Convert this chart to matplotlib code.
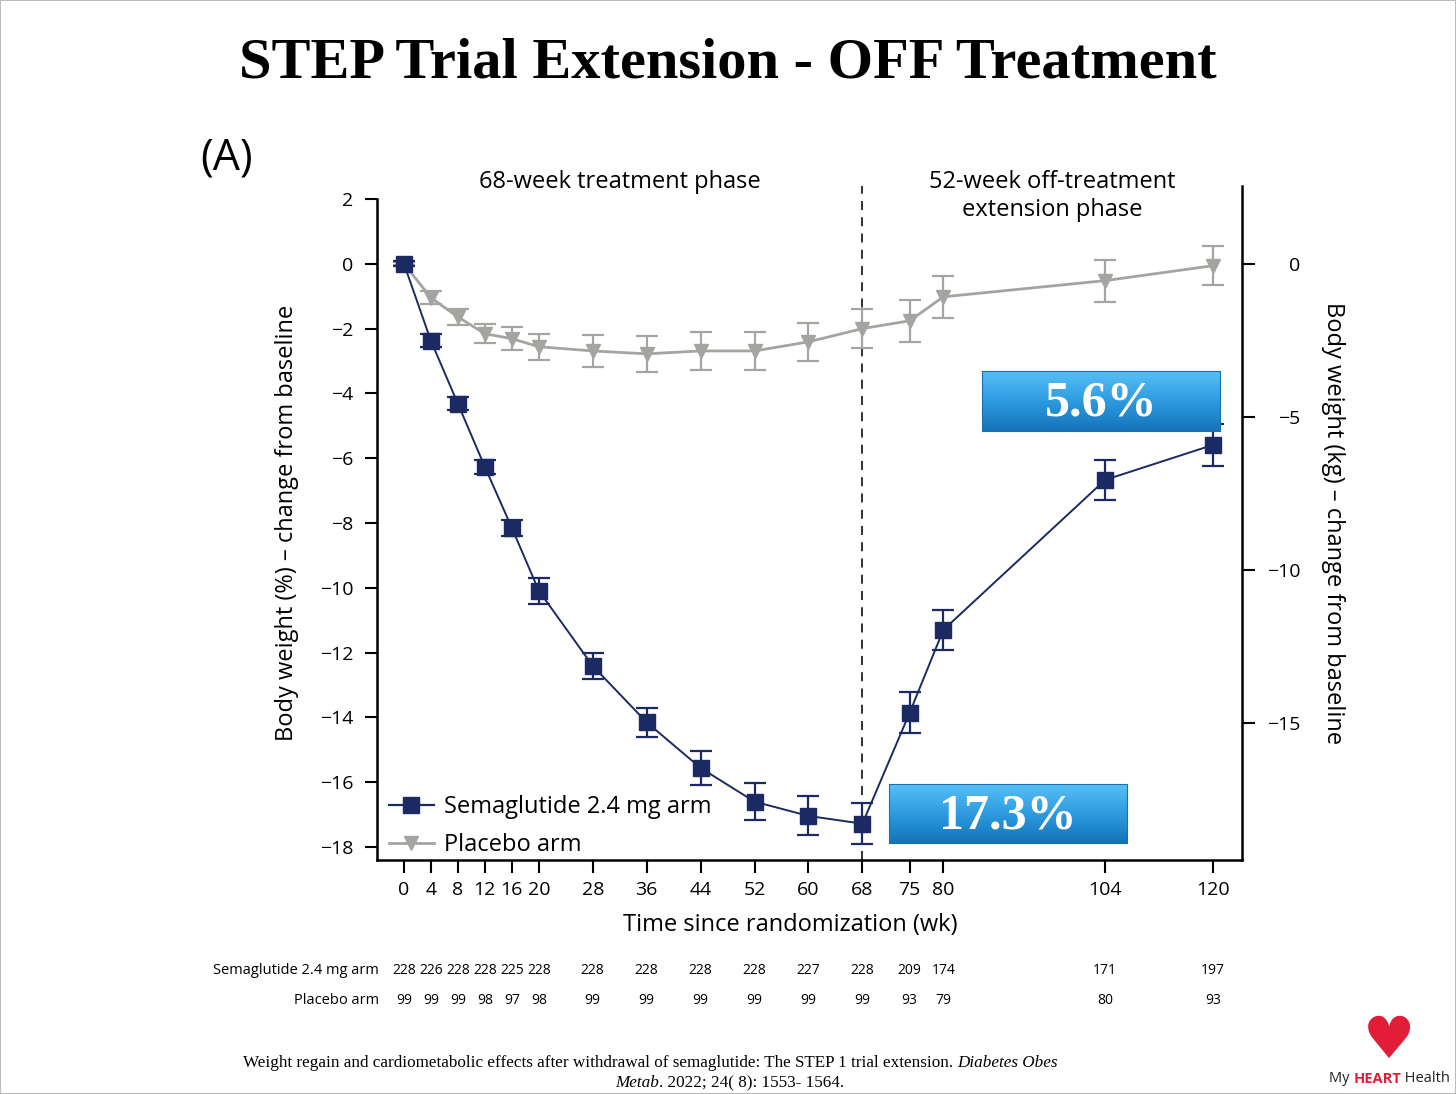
import matplotlib
matplotlib.use("Agg")
import matplotlib.pyplot as plt
import numpy as np
from matplotlib.lines import Line2D
import matplotlib.transforms as mtransforms
from matplotlib.colors import LinearSegmentedColormap

# ---------------- data ----------------
weeks = [0, 4, 8, 12, 16, 20, 28, 36, 44, 52, 60, 68, 75, 80, 104, 120]
sema_mean = [0, -2.38, -4.32, -6.27, -8.15, -10.09, -12.41, -14.15, -15.56, -16.6, -17.04, -17.28, -13.86, -11.3, -6.67, -5.59]
sema_err = [0.08, 0.2, 0.2, 0.22, 0.25, 0.4, 0.4, 0.45, 0.52, 0.58, 0.6, 0.63, 0.63, 0.63, 0.62, 0.65]
plac_mean = [0, -1.05, -1.64, -2.16, -2.31, -2.56, -2.69, -2.78, -2.69, -2.69, -2.41, -2.0, -1.76, -1.02, -0.52, -0.06]
plac_err = [0.05, 0.2, 0.25, 0.3, 0.35, 0.4, 0.5, 0.55, 0.58, 0.58, 0.58, 0.6, 0.65, 0.65, 0.65, 0.6]
sema_n = [228, 226, 228, 228, 225, 228, 228, 228, 228, 228, 227, 228, 209, 174, 171, 197]
plac_n = [99, 99, 99, 98, 97, 98, 99, 99, 99, 99, 99, 99, 93, 79, 80, 93]
left_ticks = [2, 0, -2, -4, -6, -8, -10, -12, -14, -16, -18]
right_ticks = [0, -5, -10, -15]
callouts = ["5.6%", "17.3%"]

NAVY = "#1c2a63"
GREY = "#a4a4a0"
FONT = "Open Sans"

plt.rcParams["font.family"] = [FONT, "DejaVu Sans"]

fig = plt.figure(figsize=(14.56, 10.94), dpi=100)

# title
fig.text(0.5, 1 - 63 / 1094, "STEP Trial Extension - OFF Treatment", ha="center", va="center",
         fontsize=42, fontweight="bold", family=["Liberation Serif", "DejaVu Serif"])
fig.text(200 / 1456, 1 - 158 / 1094, "(A)", ha="left", va="center", fontsize=31)

# main axes
ax = fig.add_axes([377 / 1456, 1 - 860 / 1094, (1242 - 377) / 1456, (860 - 186) / 1094])
ylo, yhi = -18.4, 2.4
ax.set_ylim(ylo, yhi)
ax.set_xlim(-4.0, 124.3)

ax.errorbar(weeks, plac_mean, yerr=plac_err, color=GREY, marker="v", markersize=10,
            lw=2.0, elinewidth=1.6, capsize=8, capthick=1.6, zorder=3, label="Placebo arm")
ax.errorbar(weeks, sema_mean, yerr=sema_err, color=NAVY, marker="s", markersize=11,
            lw=1.4, elinewidth=1.6, capsize=8, capthick=1.6, zorder=4, label="Semaglutide 2.4 mg arm")

ax.axvline(68, color="#222222", lw=1.3, ls=(0, (5, 4)), zorder=1)

ax.spines["top"].set_visible(False)
ax.spines["right"].set_visible(False)
ax.spines["left"].set_bounds(-18.4, 2)
for s in ("left", "bottom"):
    ax.spines[s].set_linewidth(1.8)
ax.set_yticks(left_ticks)
ax.set_yticklabels([("\u2212" + str(-t)) if t < 0 else str(t) for t in left_ticks])
ax.set_xticks(weeks)
ax.set_xticklabels([str(w) for w in weeks])
ax.tick_params(axis="both", direction="out", length=9, width=1.5, labelsize=14, pad=6)
ax.tick_params(axis="y", pad=8)

ax.set_ylabel("Body weight (%) \u2013 change from baseline", fontsize=17)
ax.yaxis.set_label_coords((299 - 377) / 865, 0.5)
ax.set_xlabel("Time since randomization (wk)", fontsize=17)
ax.xaxis.set_label_coords((790 - 377) / 865, -(913 - 860) / 674)

# right axis (kg)
ax2 = ax.twinx()
kfac = 1.059
ax2.set_ylim(ylo * kfac, yhi * kfac)
ax2.set_yticks(right_ticks)
ax2.set_yticklabels([("\u2212" + str(-t)) if t < 0 else str(t) for t in right_ticks])
for s in ("top", "left", "bottom"):
    ax2.spines[s].set_visible(False)
ax2.spines["right"].set_linewidth(1.8)
ax2.tick_params(axis="y", direction="out", length=9, width=1.5, labelsize=14, pad=33)
for lbl in ax2.get_yticklabels():
    lbl.set_ha("right")
ax2.set_ylabel("Body weight (kg) \u2013 change from baseline", fontsize=17, rotation=270, va="center")
ax2.yaxis.set_label_coords((1333 - 377) / 865, 0.5)

# phase labels
ax.text(620 / 1456, 1 - 182 / 1094, "68-week treatment phase", transform=fig.transFigure,
        ha="center", va="center", fontsize=17)
ax.text(1052 / 1456, 1 - 196 / 1094, "52-week off-treatment\nextension phase", transform=fig.transFigure,
        ha="center", va="center", fontsize=17, linespacing=1.2)

# legend
handles = [Line2D([], [], color=NAVY, marker="s", markersize=11, lw=1.6),
           Line2D([], [], color=GREY, marker="v", markersize=10, lw=2.0)]
ax.legend(handles, ["Semaglutide 2.4 mg arm", "Placebo arm"], loc="lower left", frameon=False,
          fontsize=17, handlelength=1.9, handletextpad=0.45, labelspacing=0.6,
          bbox_to_anchor=(0.0, -0.013), borderaxespad=0.3, borderpad=0.2)

# number-at-risk table
tr = mtransforms.blended_transform_factory(ax.transData, fig.transFigure)
row_y = [1 - 970 / 1094, 1 - 1001 / 1094]
tfont = [FONT, "DejaVu Sans"]
fig.text(379 / 1456, row_y[0], "Semaglutide 2.4 mg arm", ha="right", va="center", fontsize=10.5, family=tfont)
fig.text(379 / 1456, row_y[1], "Placebo arm", ha="right", va="center", fontsize=10.5, family=tfont)
for w, a, b in zip(weeks, sema_n, plac_n):
    ax.text(w, row_y[0], str(a), transform=tr, ha="center", va="center", fontsize=10, family=tfont)
    ax.text(w, row_y[1], str(b), transform=tr, ha="center", va="center", fontsize=10, family=tfont)

# gradient callout boxes
grad = np.linspace(0, 1, 256).reshape(-1, 1)
cmap = LinearSegmentedColormap.from_list("blu", ["#58c0f7", "#2d9be0", "#1573b8"])
boxes = [(982, 371, 1220, 431), (889, 784, 1127, 843)]
for (x0, y0, x1, y1), label in zip(boxes, callouts):
    bax = fig.add_axes([x0 / 1456, 1 - y1 / 1094, (x1 - x0) / 1456, (y1 - y0) / 1094])
    bax.imshow(grad, aspect="auto", cmap=cmap, extent=[0, 1, 0, 1])
    bax.set_xticks([]); bax.set_yticks([])
    for s in bax.spines.values():
        s.set_color("#1a6fae"); s.set_linewidth(0.8)
    bax.text(0.5, 0.45, label, ha="center", va="center", color="white", fontsize=36,
             fontweight="bold", family=["Liberation Serif", "DejaVu Serif"], transform=bax.transAxes)

# citation
serif = ["Liberation Serif", "DejaVu Serif"]
t1 = fig.text(243 / 1456, 1 - 1063 / 1094,
              "Weight regain and cardiometabolic effects after withdrawal of semaglutide: The STEP 1 trial extension. ",
              ha="left", va="center", fontsize=12.3, family=serif)
fig.add_artist(matplotlib.text.Annotation("Diabetes Obes", xy=(1, 0.5), xycoords=t1, va="center", ha="left",
                                          fontsize=12.3, family=serif, style="italic"))
t2 = fig.text(615 / 1456, 1 - 1083 / 1094, "Metab", ha="left", va="center", fontsize=12.3, family=serif,
              style="italic")
fig.add_artist(matplotlib.text.Annotation(". 2022; 24( 8): 1553- 1564.", xy=(1, 0.5), xycoords=t2, va="center",
                                          ha="left", fontsize=12.3, family=serif))

# logo
fig.text(1389 / 1456, 1 - 1058 / 1094, "\u2665", ha="center", va="baseline", fontsize=42, color="#e21d37",
         family=["DejaVu Sans"])
t3 = fig.text(1329 / 1456, 1 - 1079 / 1094, "My ", ha="left", va="center", fontsize=10.5, color="#222222")
t4 = fig.add_artist(matplotlib.text.Annotation("HEART", xy=(1, 0.5), xycoords=t3, va="center", ha="left",
                                               fontsize=10.5, color="#e21d37", fontweight="bold"))
fig.add_artist(matplotlib.text.Annotation(" Health", xy=(1, 0.5), xycoords=t4, va="center", ha="left",
                                          fontsize=10.5, color="#222222"))

# thin frame
fig.add_artist(plt.Rectangle((0, 0), 1, 1, transform=fig.transFigure, fill=False, ec="#bbbbbb", lw=1.5))

fig.savefig("out.png", dpi=100)
